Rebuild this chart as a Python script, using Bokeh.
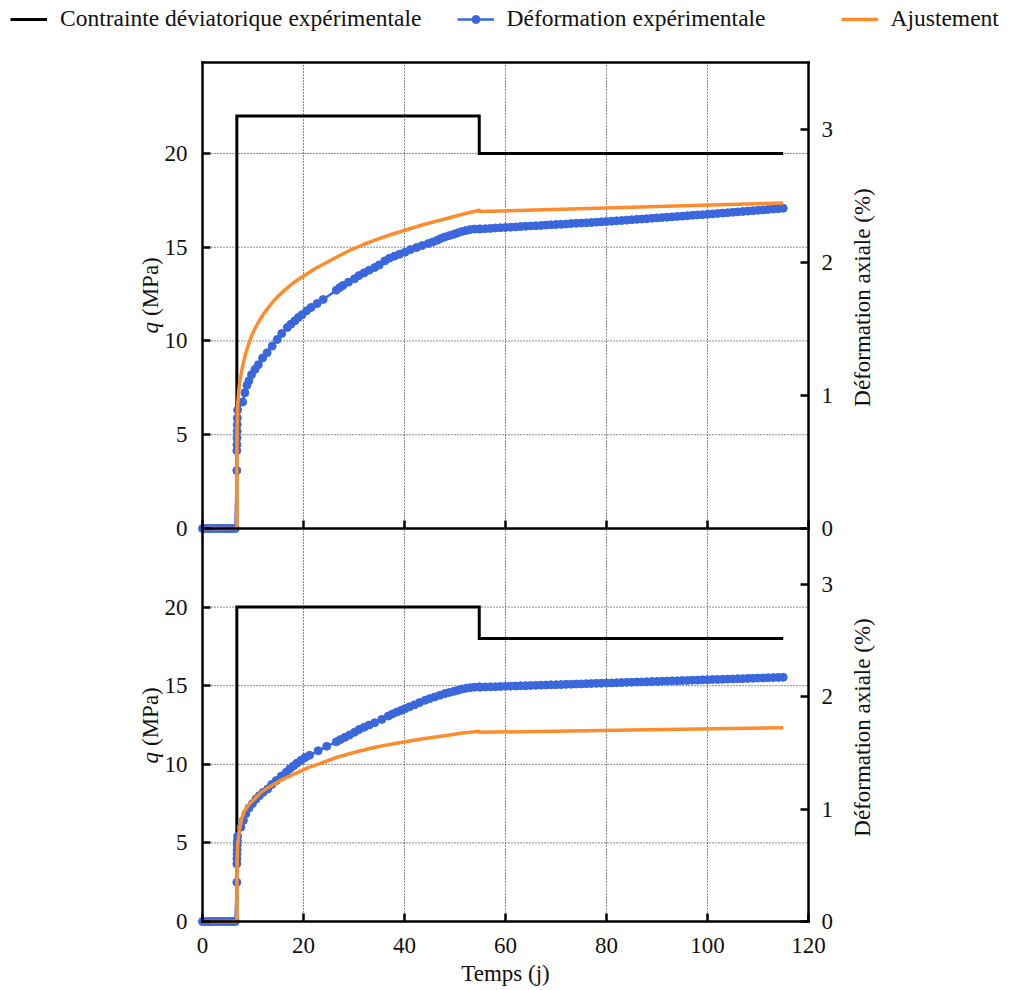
import math
from bokeh.plotting import figure
from bokeh.models import (Range1d, LinearAxis, FixedTicker, Legend, LegendItem,
                          ColumnDataSource, Label)
from bokeh.embed import file_html
from bokeh.resources import INLINE

# ---------------- data ----------------
x_ticks = [0, 20, 40, 60, 80, 100, 120]
x_grid = [20, 40, 60, 80, 100]
q_ticks = [0, 5, 10, 15, 20]
q_grid = [5, 10, 15, 20]
eps_ticks = [0, 1, 2, 3]

# deviatoric stress (MPa)
stress_t = [0, 6.8, 6.8, 54.8, 54.8, 115]
stress_top = [0, 0, 22, 22, 20, 20]
stress_bot = [0, 0, 20, 20, 18, 18]

# experimental axial strain (%) - upper test
top_start_t = [0, 0.5, 1, 1.5, 2, 2.5, 3, 3.5, 4, 4.5, 5, 5.5, 6, 6.5,
               6.8, 6.8, 6.82, 6.84, 6.86, 6.88, 6.9, 6.95]
top_start_eps = [0, 0, 0, 0, 0, 0, 0, 0, 0, 0, 0, 0, 0, 0,
                 0.435, 0.585, 0.63, 0.68, 0.73, 0.78, 0.83, 0.89]
top_curve = [(7.95, 0.95), (8.4, 1.02), (8.8, 1.075), (9.2, 1.11), (9.7, 1.155),
             (10.4, 1.195), (11.05, 1.23), (11.9, 1.28), (12.8, 1.32), (13.8, 1.37),
             (14.8, 1.42), (15.7, 1.465), (16.8, 1.51), (17.5, 1.535), (18.3, 1.56),
             (19.0, 1.585), (19.7, 1.605), (20.6, 1.635), (21.5, 1.66), (22.7, 1.69),
             (23.9, 1.72), (26.5, 1.79), (27.2, 1.81), (27.8, 1.825), (28.9, 1.85),
             (30.1, 1.875), (31.0, 1.90), (32.0, 1.92), (33.0, 1.94), (34.1, 1.96),
             (35.0, 1.98), (36.1, 2.01), (37.0, 2.03), (38.0, 2.045), (39.0, 2.06),
             (40.1, 2.075), (41.2, 2.095), (42.4, 2.11), (43.5, 2.125), (44.7, 2.14),
             (45.6, 2.152), (46.5, 2.165), (47.2, 2.178), (48.0, 2.19), (48.9, 2.20),
             (49.8, 2.21), (50.5, 2.22), (51.3, 2.23), (52.2, 2.238), (53.0, 2.245),
             (53.9, 2.249), (54.8, 2.25)]
flat_t = list(range(55, 116))
top_flat_eps = [2.250, 2.252, 2.254, 2.257, 2.259, 2.261, 2.263, 2.265, 2.268, 2.270,
                2.272, 2.274, 2.276, 2.279, 2.281, 2.283, 2.285, 2.287, 2.290, 2.292,
                2.294, 2.296, 2.298, 2.301, 2.303, 2.305, 2.308, 2.311, 2.313, 2.316,
                2.319, 2.322, 2.324, 2.327, 2.330, 2.333, 2.335, 2.338, 2.341, 2.344,
                2.346, 2.349, 2.352, 2.355, 2.357, 2.360, 2.363, 2.366, 2.369, 2.372,
                2.375, 2.378, 2.381, 2.384, 2.387, 2.390, 2.393, 2.396, 2.399, 2.402,
                2.405]

# experimental axial strain (%) - lower test
bot_start_t = [0, 0.5, 1, 1.5, 2, 2.5, 3, 3.5, 4, 4.5, 5, 5.5, 6, 6.5,
               6.8, 6.8, 6.82, 6.84, 6.86, 6.88, 6.9, 6.95]
bot_start_eps = [0, 0, 0, 0, 0, 0, 0, 0, 0, 0, 0, 0, 0, 0,
                 0.35, 0.514, 0.56, 0.60, 0.64, 0.68, 0.72, 0.76]
bot_curve = [(7.6, 0.84), (8.1, 0.90), (8.6, 0.96), (9.2, 1.01), (9.9, 1.05),
             (10.6, 1.09), (11.25, 1.12), (12.0, 1.15), (12.9, 1.18), (13.7, 1.22),
             (14.6, 1.255), (15.6, 1.295), (16.6, 1.33), (17.3, 1.36), (18.0, 1.385),
             (18.7, 1.41), (19.5, 1.435), (20.3, 1.46), (21.2, 1.48), (22.9, 1.52),
             (24.6, 1.56), (26.5, 1.60), (27.3, 1.62), (28.2, 1.64), (29.1, 1.66),
             (30.1, 1.685), (31.0, 1.71), (32.0, 1.73), (33.0, 1.75), (34.1, 1.77),
             (35.5, 1.80), (36.8, 1.83), (37.6, 1.848), (38.5, 1.865), (39.3, 1.88),
             (40.1, 1.895), (41.0, 1.912), (42.0, 1.93), (43.0, 1.95), (44.1, 1.97),
             (45.0, 1.985), (46.0, 2.0), (47.0, 2.015), (48.0, 2.03), (48.9, 2.04),
             (49.8, 2.05), (50.6, 2.06), (51.4, 2.07), (52.2, 2.077), (53.0, 2.082),
             (53.9, 2.087), (54.8, 2.09)]
bot_flat_eps = [2.087, 2.088, 2.090, 2.091, 2.093, 2.094, 2.096, 2.097, 2.099, 2.100,
                2.102, 2.103, 2.105, 2.106, 2.108, 2.109, 2.110, 2.112, 2.113, 2.115,
                2.116, 2.118, 2.119, 2.121, 2.122, 2.124, 2.125, 2.127, 2.128, 2.130,
                2.131, 2.133, 2.134, 2.135, 2.137, 2.138, 2.140, 2.141, 2.143, 2.144,
                2.146, 2.147, 2.149, 2.150, 2.152, 2.153, 2.155, 2.156, 2.157, 2.159,
                2.160, 2.162, 2.163, 2.165, 2.166, 2.168, 2.169, 2.171, 2.172, 2.174,
                2.175]

# fitted model (%)
fit_top_t = [0, 6.8, 6.81, 6.85, 7.0, 7.3, 7.6, 8.0, 8.6, 9.0,
             9.5, 10.3, 11.0, 11.5, 12.25, 13.0, 13.5, 14.2, 14.9, 16.0,
             17.55, 19.0, 20.2, 22.0, 24.2, 26.5, 29.5, 32.0, 34.8, 37.5,
             40.1, 44.0, 48.0, 51.5, 54.8, 54.85, 85, 115]
fit_top = [0, 0, 0.55, 0.75, 0.95, 1.08, 1.15, 1.23, 1.32, 1.37,
           1.425, 1.495, 1.545, 1.575, 1.62, 1.657, 1.682, 1.713, 1.742, 1.781,
           1.832, 1.872, 1.9, 1.945, 1.99, 2.037, 2.095, 2.135, 2.175, 2.21,
           2.24, 2.285, 2.325, 2.36, 2.39, 2.38, 2.412, 2.445]
fit_bot_t = [0, 6.8, 6.81, 6.85, 7.0, 7.3, 7.8, 8.3, 9.0, 9.6,
             10.5, 11.6, 12.9, 14.2, 15.8, 17.55, 19.2, 20.9, 23.5, 26.8,
             30.0, 33.5, 36.8, 40.1, 44.0, 48.0, 51.5, 54.8, 54.85, 85,
             115]
fit_bot = [0, 0, 0.40, 0.55, 0.70, 0.82, 0.92, 0.98, 1.03, 1.06,
           1.10, 1.15, 1.19, 1.225, 1.265, 1.30, 1.335, 1.37, 1.41, 1.465,
           1.505, 1.545, 1.575, 1.60, 1.63, 1.655, 1.678, 1.695, 1.685, 1.705,
           1.725]

labels_legend = ["Contrainte déviatorique expérimentale",
                 "Déformation expérimentale", "Ajustement"]

# ---------------- layout constants (pixels) ----------------
W, H = 1008, 988
X0_PX, X1_PX = 202, 808            # x = 0 and x = 120
TOP_Y0, TOP_Y1 = 528, 62           # upper panel: bottom / top
BOT_Y0, BOT_Y1 = 921, 528          # lower panel: bottom / top
Q_TOP_MAX, EPS_MAX, Q_BOT_MAX = 24.85, 3.5, 25.0

FONT = "Liberation Serif"
FS = "23px"
BLACK = "#000000"
BLUE = "#3b67dd"
ORANGE = "#fd8d2c"
TXT = "#111111"
LW_AX = 2.5


def yrange(zero_px, top_px, top_val):
    ppu = (zero_px - top_px) / top_val
    return Range1d((zero_px - H) / ppu, zero_px / ppu)


ppx = (X1_PX - X0_PX) / 120.0
p = figure(width=W, height=H,
           x_range=Range1d(-X0_PX / ppx, 120 + (W - X1_PX) / ppx),
           y_range=Range1d(0, H),
           x_axis_location=None, y_axis_location=None, min_border=0,
           outline_line_color=None, toolbar_location=None, output_backend="svg")
p.grid.visible = False
p.extra_y_ranges = {
    "q_top": yrange(TOP_Y0, TOP_Y1, Q_TOP_MAX),
    "eps_top": yrange(TOP_Y0, TOP_Y1, EPS_MAX),
    "q_bot": yrange(BOT_Y0, BOT_Y1, Q_BOT_MAX),
    "eps_bot": yrange(BOT_Y0, BOT_Y1, EPS_MAX),
}


def style_axis(ax, show_labels=True):
    ax.axis_line_width = LW_AX
    ax.axis_line_color = BLACK
    ax.axis_line_cap = "square"
    ax.major_tick_line_width = LW_AX
    ax.major_tick_line_color = BLACK
    ax.major_tick_in = 8
    ax.major_tick_out = 0
    ax.minor_tick_line_color = None
    ax.major_label_text_font = FONT
    ax.major_label_text_font_size = FS
    ax.major_label_text_color = TXT if show_labels else None


def add_axis(side, rname, loc, bounds, ticks, standoff, show_labels=True):
    ax = LinearAxis(y_range_name=rname, fixed_location=loc, bounds=bounds,
                    ticker=FixedTicker(ticks=ticks))
    style_axis(ax, show_labels)
    ax.major_label_standoff = standoff
    p.add_layout(ax, side)
    return ax


# grid (dotted)
for qn, qmax in [("q_top", Q_TOP_MAX), ("q_bot", Q_BOT_MAX)]:
    p.segment(x0=x_grid, y0=0, x1=x_grid, y1=qmax, y_range_name=qn,
              line_color=BLACK, line_width=1, line_dash="1 2", line_alpha=0.9)
    p.segment(x0=0, y0=q_grid, x1=120, y1=q_grid, y_range_name=qn,
              line_color=BLACK, line_width=1, line_dash="1 2", line_alpha=0.9)


def draw_panel(qn, en, s_q, e_t, e_v, f_t, f_v):
    r_s = p.line(stress_t, s_q, y_range_name=qn, line_color=BLACK, line_width=3,
                 line_join="miter")
    src = ColumnDataSource(dict(t=e_t, eps=e_v))
    r_l = p.line("t", "eps", source=src, y_range_name=en, line_color=BLUE,
                 line_width=2.5)
    r_m = p.scatter("t", "eps", source=src, y_range_name=en, marker="circle",
                    size=8, fill_color=BLUE, line_color=BLUE)
    r_f = p.line(f_t, f_v, y_range_name=en, line_color=ORANGE, line_width=3.5,
                 line_join="round")
    return r_s, r_l, r_m, r_f


top_t = top_start_t + [c[0] for c in top_curve] + flat_t
top_e = top_start_eps + [c[1] for c in top_curve] + top_flat_eps
bot_t = bot_start_t + [c[0] for c in bot_curve] + flat_t
bot_e = bot_start_eps + [c[1] for c in bot_curve] + bot_flat_eps

r_s, r_l, r_m, r_f = draw_panel("q_top", "eps_top", stress_top, top_t, top_e,
                                fit_top_t, fit_top)
draw_panel("q_bot", "eps_bot", stress_bot, bot_t, bot_e, fit_bot_t, fit_bot)

# axes: upper panel
add_axis("left", "q_top", 0, (0, Q_TOP_MAX), q_ticks, 15)
add_axis("right", "eps_top", 120, (0, EPS_MAX), eps_ticks, 13)
add_axis("below", "q_top", 0, (0, 120), x_ticks, 0, show_labels=False)
add_axis("above", "q_top", Q_TOP_MAX, (0, 120), [], 0, show_labels=False)
# axes: lower panel
add_axis("left", "q_bot", 0, (0, Q_BOT_MAX), q_ticks, 15)
add_axis("right", "eps_bot", 120, (0, EPS_MAX), eps_ticks, 13)
add_axis("below", "q_bot", 0, (0, 120), x_ticks, 16)


def txt(text, x, y, angle=0.0, align="center", style="normal"):
    p.add_layout(Label(x=x, y=y, x_units="screen", y_units="screen", text=text,
                       angle=angle, text_align=align, text_baseline="middle",
                       text_font=FONT, text_font_size=FS, text_font_style=style,
                       text_color=TXT))


# axis titles
for center_px in [(TOP_Y0 + TOP_Y1) / 2, (BOT_Y0 + BOT_Y1) / 2 + 0.5]:
    start = H - (center_px + 38)
    txt("q", 150, start, math.pi / 2, "left", "italic")
    txt("(MPa)", 150, start + 17.5, math.pi / 2, "left")
    txt("Déformation axiale (%)", 862, H - center_px - 2, math.pi / 2, "center")
txt("Temps (j)", (X0_PX + X1_PX) / 2, H - 973)

# legend
legend = Legend(items=[LegendItem(label=labels_legend[0], renderers=[r_s]),
                       LegendItem(label=labels_legend[1], renderers=[r_l, r_m]),
                       LegendItem(label=labels_legend[2], renderers=[r_f])],
                location=(10, H - 18 - 14), orientation="horizontal",
                border_line_color=None, background_fill_alpha=0,
                padding=0, margin=0, spacing=35, label_width=299,
                glyph_width=37, glyph_height=20, label_standoff=13,
                label_text_font=FONT, label_text_font_size="23.5px",
                label_text_color=TXT)
p.add_layout(legend, "center")

open("out.html", "w").write(file_html(p, INLINE))
